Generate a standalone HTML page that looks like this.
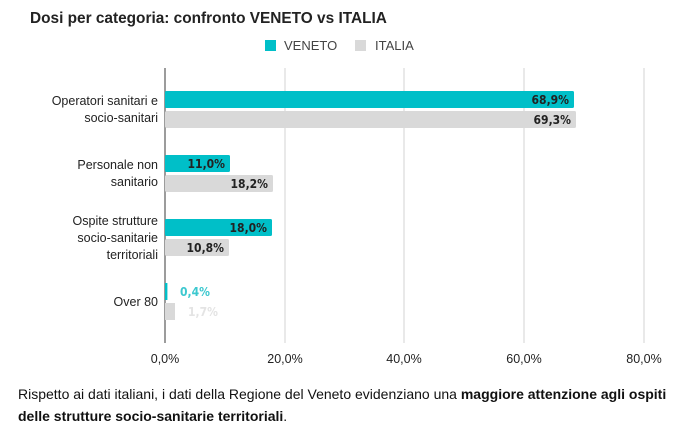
<!DOCTYPE html>
<html><head><meta charset="utf-8"><style>
body{margin:0;background:#fff;width:693px;height:435px;overflow:hidden;font-family:"Liberation Sans",sans-serif;}
</style></head><body>
<svg width="693" height="435" xmlns="http://www.w3.org/2000/svg" font-family="Liberation Sans, sans-serif">
<text x="30" y="23" font-size="15.4" font-weight="bold" fill="#222">Dosi per categoria: confronto VENETO vs ITALIA</text>
<rect x="265" y="40" width="11" height="11" fill="#00bfc8"/>
<text x="284" y="50" font-size="13" fill="#444">VENETO</text>
<rect x="355" y="40" width="11" height="11" fill="#d9d9d9"/>
<text x="375" y="50" font-size="13" fill="#444">ITALIA</text>
<g stroke="#ddd" stroke-width="1.3">
<line x1="285" y1="68" x2="285" y2="343"/>
<line x1="404" y1="68" x2="404" y2="343"/>
<line x1="524" y1="68" x2="524" y2="343"/>
<line x1="644" y1="68" x2="644" y2="343"/>
</g>
<line x1="165" y1="68" x2="165" y2="343" stroke="#666" stroke-width="1.3"/>
<g fill="#00bfc8">
<rect x="165" y="91" width="409" height="17" rx="1.5"/>
<rect x="165" y="155" width="65" height="17" rx="1.5"/>
<rect x="165" y="219" width="107" height="17" rx="1.5"/>
<rect x="165" y="283" width="2.4" height="17"/>
</g>
<g fill="#d9d9d9">
<rect x="165" y="111" width="411" height="17" rx="1.5"/>
<rect x="165" y="175" width="108" height="17" rx="1.5"/>
<rect x="165" y="239" width="64" height="17" rx="1.5"/>
<rect x="165" y="303" width="10" height="17"/>
</g>
<g font-family="DejaVu Sans Condensed, DejaVu Sans, sans-serif" font-size="12" font-weight="bold" fill="#222" text-anchor="end">
<text x="569" y="104">68,9%</text>
<text x="571" y="124">69,3%</text>
<text x="225" y="168">11,0%</text>
<text x="268" y="188">18,2%</text>
<text x="267" y="232">18,0%</text>
<text x="224" y="252">10,8%</text>
</g>
<g font-family="DejaVu Sans Condensed, DejaVu Sans, sans-serif" font-size="12" font-weight="bold">
<text x="180" y="296" fill="#3cc8cf">0,4%</text>
<text x="188" y="316" fill="#e4e4e4">1,7%</text>
</g>
<g font-size="12.5" fill="#222" text-anchor="end">
<text x="158" y="105">Operatori sanitari e</text>
<text x="158" y="122">socio-sanitari</text>
<text x="158" y="169">Personale non</text>
<text x="158" y="186">sanitario</text>
<text x="158" y="225">Ospite strutture</text>
<text x="158" y="242">socio-sanitarie</text>
<text x="158" y="259">territoriali</text>
<text x="158" y="306">Over 80</text>
</g>
<g font-size="12.5" fill="#222" text-anchor="middle">
<text x="165" y="363">0,0%</text>
<text x="285" y="363">20,0%</text>
<text x="404" y="363">40,0%</text>
<text x="524" y="363">60,0%</text>
<text x="644" y="363">80,0%</text>
</g>
<text x="18" y="399" font-size="14" fill="#111">Rispetto ai dati italiani, i dati della Regione del Veneto evidenziano una <tspan font-weight="bold">maggiore attenzione agli ospiti</tspan></text>
<text x="18" y="421" font-size="14" fill="#111"><tspan font-weight="bold">delle strutture socio-sanitarie territoriali</tspan>.</text>
</svg>
</body></html>
